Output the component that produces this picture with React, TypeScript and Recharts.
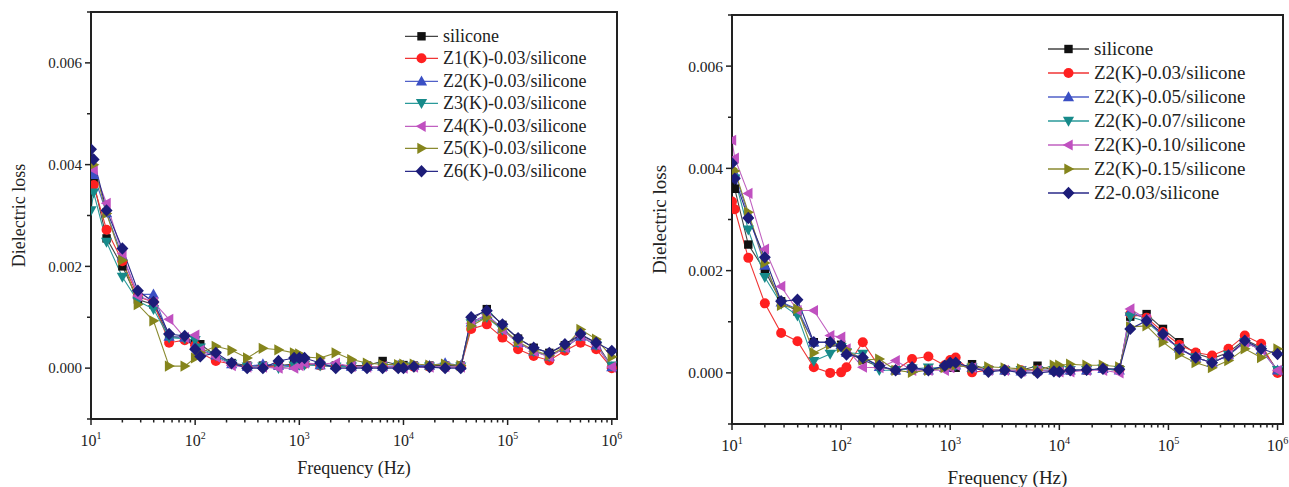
import React from 'react';
import { LineChart, Line, XAxis, YAxis, ReferenceArea } from 'recharts';

// Frequencies (Hz) shared by every sweep
const FREQ = [
  10, 10.6, 14.1, 20, 28.2, 39.8, 56.2, 79.4, 100, 112, 158, 224, 316, 447, 631, 891, 1000, 1122, 1585, 2239,
  3162, 4467, 6310, 8913, 10000, 12589, 17783, 25119, 35481, 44668, 63096, 89125, 125893, 177828, 251189,
  354813, 501187, 707946, 1000000,
];

const LEFT_NAMES = [
  'silicone',
  'Z1(K)-0.03/silicone',
  'Z2(K)-0.03/silicone',
  'Z3(K)-0.03/silicone',
  'Z4(K)-0.03/silicone',
  'Z5(K)-0.03/silicone',
  'Z6(K)-0.03/silicone',
];
const RIGHT_NAMES = [
  'silicone',
  'Z2(K)-0.03/silicone',
  'Z2(K)-0.05/silicone',
  'Z2(K)-0.07/silicone',
  'Z2(K)-0.10/silicone',
  'Z2(K)-0.15/silicone',
  'Z2-0.03/silicone',
];

// left panel: Z1..Z6 at 0.03
const leftSilicone = [
  .0037, .00365, .00255, .002, .00135, .00125, .00062, .0006, .00048, .00047, .00025, .0001, .00005, .00005,
  .00005, .00008, .00006, .0001, .00006, .00005, .00005, .00005, .00014, .00006, .00006, .00005, .00005,
  .00005, .00005, .00095, .00116, .00085, .00058, .0004, .0003, .00045, .00065, .0005, .00003,
];
const leftZ1 = [
  .00355, .0036, .00272, .0021, .0014, .0013, .0005, .00055, .00045, .0003, .00014, .00008, .00003, .00002,
  .00005, .00005, .0001, .00008, .00005, .00003, .00003, .00003, .00003, .00002, .00002, .00003, .00003,
  .00002, .00003, .00077, .00086, .0006, .00037, .00024, .00015, .00034, .0005, .00037, 0,
];
const leftZ2 = [
  .00385, .0038, .00305, .0022, .00145, .00145, .00062, .0006, .00045, .00035, .00025, .00008, .00003, .00008,
  .00005, .00005, .00008, .0001, .00006, .00005, .00003, .00003, .00003, .00005, .00005, .00005, .00005,
  .0001, .00005, .0009, .00105, .00078, .0005, .00033, .00023, .0004, .00062, .00045, .00002,
];
const leftZ3 = [
  .0031, .00345, .00248, .00179, .00132, .00116, .0006, .00058, .00055, .0004, .00025, .00008, .00003, .00003,
  0, .00005, .00006, .00006, .00005, .00003, .00003, .00003, .00003, .00003, .00003, .00003, .00003, .00003,
  .00003, .00088, .001, .00075, .0005, .00033, .00023, .0004, .00063, .00045, .00005,
];
const leftZ4 = [
  .004, .0039, .00324, .00225, .00142, .0013, .00096, .0006, .00065, .00035, .00022, .00005, .00002, .00002,
  0, 0, .00005, .0001, .00008, .0001, .00003, .00002, .00003, .00002, 0, .00002, .00002, .00003, .00002,
  .00088, .00105, .00075, .0005, .00033, .00022, .0004, .00063, .00046, .00002,
];
const leftZ5 = [
  .00405, .004, .00304, .00212, .00125, .00093, .00004, .00004, .0002, .0003, .00043, .00035, .0002, .00039,
  .00036, .0003, .00028, .00022, .0002, .0003, .00017, .0001, .00007, .00007, .00008, .00008, .00006,
  .00008, .00005, .00083, .001, .00078, .00052, .00035, .00025, .00042, .00076, .00057, .00022,
];
const leftZ6 = [
  .0043, .0041, .0031, .00235, .00152, .0013, .00067, .00063, .00037, .00023, .0003, .0001, 0, 0, .00014,
  .0002, .0002, .0002, .0001, 0, 0, 0, 0, 0, 0, .00003, .00002, 0, 0, .001, .00113, .00086, .00059, .0004,
  .0003, .00047, .00067, .0005, .00034,
];

// right panel: Z2(K) loading series
const rightSilicone = [
  .00365, .0036, .00251, .002, .0014, .0012, .0006, .0006, .00055, .0004, .00025, .00012, .00005, .00008,
  .00005, .0001, .0001, .0001, .00017, .00005, .00005, .00005, .00014, .00005, .00005, .00005, .00005,
  .00008, .00007, .0011, .00115, .00086, .0006, .00038, .00028, .0004, .00065, .0005, .00005,
];
const rightZ2K003 = [
  .00335, .0032, .00225, .00136, .00078, .00062, .00011, 0, .00001, .00011, .0006, .00012, .00005, .00027,
  .00032, .00015, .00025, .0003, .00001, .00005, .00005, .00005, .00005, .00005, .00003, .00005, .00005,
  .00008, .00005, .00115, .00108, .0008, .00055, .0004, .00034, .00047, .00073, .00057, 0,
];
const rightZ2K005 = [
  .004, .0039, .0031, .0021, .00138, .00125, .0006, .0006, .00055, .0004, .0003, .00012, .00005, .00008,
  .00005, .0001, .00015, .00015, .0001, .00005, .00005, .00003, .00005, .00005, .00005, .00005, .00005,
  .00008, .00005, .0012, .00105, .00072, .00048, .0003, .0002, .00035, .0006, .00045, .00005,
];
const rightZ2K007 = [
  .0039, .0038, .0028, .00187, .00135, .00112, .00023, .00037, .0005, .0004, .00037, .00005, .00005, .00008,
  .0001, .0001, .00015, .00015, .0001, .00005, .00005, .00005, .00005, .00005, .00005, .00005, .00005,
  .00008, .00005, .0011, .001, .00072, .00048, .0003, .0002, .00035, .0006, .00045, .00005,
];
const rightZ2K010 = [
  .00455, .0042, .00351, .00242, .00169, .00122, .00122, .00073, .0007, .00047, .00011, .0001, .00024,
  .00005, .00005, .00005, .0001, .00015, .0001, .00005, .00005, .00003, .00005, .00003, .00002, .00002,
  .00005, .00005, 0, .00125, .00105, .00072, .00048, .0003, .0002, .00035, .0006, .00045, .00005,
];
const rightZ2K015 = [
  .004, .00395, .00314, .00215, .00132, .00125, .00039, .00055, .0005, .00045, .00025, .00027, .00005,
  .00001, .00005, .0001, .00015, .00015, .0001, .00012, .0001, .00008, .00005, .00015, .00015, .00017,
  .00015, .00015, .00012, .0009, .00092, .0006, .00036, .0002, .0001, .00024, .00047, .0003, .00047,
];
const rightZ2003 = [
  .0041, .0038, .00303, .00226, .0014, .00143, .0006, .0006, .00053, .00036, .0003, .00014, .00005, .00011,
  .00005, .00014, .0002, .0002, .0001, .00002, .00005, 0, 0, .00003, .00002, .00005, .00006, .00008, .00007,
  .00086, .00102, .00076, .00047, .0003, .0002, .00034, .00063, .00047, .00037,
];

const X_MAJOR = [10, 100, 1000, 10000, 100000, 1000000];
const X_TICKS = [1, 2, 3, 4, 5].flatMap((e) => [1, 2, 3, 4, 5, 6, 7, 8, 9].map((m) => m * 10 ** e)).concat([1000000]);
const Y_TICKS = [-0.001, 0, 0.001, 0.002, 0.003, 0.004, 0.005, 0.006, 0.007];
const Y_LABELLED = [0, 0.002, 0.004, 0.006];

const SHAPES = ['square', 'circle', 'up', 'down', 'left', 'right', 'diamond'];
const COLORS = ['#111111', '#ff2020', '#3a4fc4', '#178a8a', '#c050c0', '#85851c', '#1c1c78'];
const LINE_COLORS = ['#444444', '#f03535', '#5060c8', '#2a9a9a', '#c060c0', '#8a8a30', '#2a2a88'];

const FONT = '"Liberation Serif", "Times New Roman", serif';
const INK = '#222';

function Marker({ shape, cx, cy, color }: { shape: string; cx: number; cy: number; color: string }) {
  switch (shape) {
    case 'square':
      return <rect x={cx - 4.2} y={cy - 4.2} width={8.4} height={8.4} fill={color} />;
    case 'circle':
      return <circle cx={cx} cy={cy} r={5} fill={color} />;
    case 'up':
      return <polygon points={`${cx},${cy - 5.8} ${cx + 5.6},${cy + 4.2} ${cx - 5.6},${cy + 4.2}`} fill={color} />;
    case 'down':
      return <polygon points={`${cx},${cy + 5.8} ${cx + 5.6},${cy - 4.2} ${cx - 5.6},${cy - 4.2}`} fill={color} />;
    case 'left':
      return <polygon points={`${cx - 5.8},${cy} ${cx + 4.2},${cy - 5.6} ${cx + 4.2},${cy + 5.6}`} fill={color} />;
    case 'right':
      return <polygon points={`${cx + 5.8},${cy} ${cx - 4.2},${cy - 5.6} ${cx - 4.2},${cy + 5.6}`} fill={color} />;
    default:
      return <polygon points={`${cx},${cy - 6.2} ${cx + 6},${cy} ${cx},${cy + 6.2} ${cx - 6},${cy}`} fill={color} />;
  }
}

function XTick({ x, y, payload, fontSize }: any) {
  const v = payload.value as number;
  const major = X_MAJOR.includes(v);
  return (
    <g>
      <line x1={x} x2={x} y1={y} y2={y + (major ? 6 : 3.5)} stroke={INK} strokeWidth={1.5} />
      {major && (
        <text x={x} y={y + 27} textAnchor="middle" fontFamily={FONT} fontSize={fontSize} fill={INK}>
          10
          <tspan fontSize={fontSize * 0.62} dy={-7}>
            {Math.round(Math.log10(v))}
          </tspan>
        </text>
      )}
    </g>
  );
}

function YTick({ x, y, payload, fontSize }: any) {
  const v = payload.value as number;
  const labelled = Y_LABELLED.some((t) => Math.abs(t - v) < 1e-9);
  return (
    <g>
      <line x1={x - (labelled ? 6 : 4)} x2={x} y1={y} y2={y} stroke={INK} strokeWidth={1.5} />
      {labelled && (
        <text x={x - 9} y={y} dy="0.35em" textAnchor="end" fontFamily={FONT} fontSize={fontSize} fill={INK}>
          {v.toFixed(3)}
        </text>
      )}
    </g>
  );
}

type PanelProps = {
  series: number[][];
  names: string[];
  left: number;
  width: number;
  top: number;
  right: number;
  yAxisW: number;
  xAxisH: number;
  xTitleOffset: number;
  yTitleOffset: number;
  titleSize: number;
  tickSize: number;
  legend: { left: number; top: number; rowH: number; lineW: number; fontSize: number };
};

function Panel(p: PanelProps) {
  const data = FREQ.map((f, i) => {
    const row: Record<string, number> = { f };
    p.series.forEach((s, k) => (row[`s${k}`] = s[i]));
    return row;
  });

  return (
    <div style={{ position: 'absolute', left: p.left, top: 0, width: p.width, height: 487 }}>
      <LineChart width={p.width} height={487} data={data} margin={{ top: p.top, right: p.right, bottom: 0, left: 0 }}>
        <XAxis
          dataKey="f"
          type="number"
          scale="log"
          domain={[10, 1122000]}
          allowDataOverflow
          ticks={X_TICKS}
          interval={0}
          tickSize={0}
          tickMargin={0}
          height={p.xAxisH}
          tick={(t: any) => <XTick {...t} fontSize={p.tickSize + 1} />}
          axisLine={{ stroke: INK, strokeWidth: 2 }}
          label={{
            value: 'Frequency (Hz)',
            position: 'insideBottom',
            offset: p.xTitleOffset,
            style: { fontFamily: FONT, fontSize: p.titleSize, fill: INK },
          }}
        />
        <YAxis
          type="number"
          domain={[-0.001, 0.007]}
          allowDataOverflow
          ticks={Y_TICKS}
          interval={0}
          tickSize={0}
          tickMargin={0}
          width={p.yAxisW}
          tick={(t: any) => <YTick {...t} fontSize={p.tickSize} />}
          axisLine={{ stroke: INK, strokeWidth: 2 }}
          label={{
            value: 'Dielectric loss',
            angle: -90,
            position: 'insideLeft',
            offset: p.yTitleOffset,
            style: { fontFamily: FONT, fontSize: p.titleSize, fill: INK, textAnchor: 'middle' },
          }}
        />
        <ReferenceArea x1={10} x2={1122000} y1={-0.001} y2={0.007} fill="none" stroke={INK} strokeWidth={2} />
        {p.series.map((_, k) => (
          <Line
            key={k}
            dataKey={`s${k}`}
            name={p.names[k]}
            stroke={LINE_COLORS[k]}
            strokeWidth={1.1}
            isAnimationActive={false}
            dot={(d: any) => (
              <g key={`${k}-${d.index}`}>
                <Marker shape={SHAPES[k]} cx={d.cx} cy={d.cy} color={COLORS[k]} />
              </g>
            )}
            activeDot={false}
          />
        ))}
      </LineChart>
      <div style={{ position: 'absolute', left: p.legend.left, top: p.legend.top }}>
        {p.names.map((n, k) => (
          <div key={n} style={{ display: 'flex', alignItems: 'center', height: p.legend.rowH }}>
            <svg width={p.legend.lineW} height={p.legend.rowH} style={{ display: 'block' }}>
              <line x1={0} x2={p.legend.lineW} y1={p.legend.rowH / 2} y2={p.legend.rowH / 2} stroke={LINE_COLORS[k]} strokeWidth={1.3} />
              <Marker shape={SHAPES[k]} cx={p.legend.lineW / 2} cy={p.legend.rowH / 2} color={COLORS[k]} />
            </svg>
            <span
              style={{
                marginLeft: 5,
                fontFamily: FONT,
                fontSize: p.legend.fontSize,
                color: INK,
                lineHeight: `${p.legend.rowH}px`,
                whiteSpace: 'nowrap',
              }}
            >
              {n}
            </span>
          </div>
        ))}
      </div>
    </div>
  );
}

export default function App() {
  return (
    <div style={{ position: 'absolute', left: 0, top: 0, width: 1289, height: 487, background: '#fff' }}>
      <Panel
        series={[leftSilicone, leftZ1, leftZ2, leftZ3, leftZ4, leftZ5, leftZ6]}
        names={LEFT_NAMES}
        left={0}
        width={640}
        top={12}
        right={23}
        yAxisW={91}
        xAxisH={68}
        xTitleOffset={13}
        yTitleOffset={19}
        titleSize={18}
        tickSize={15}
        legend={{ left: 405, top: 24.5, rowH: 22.6, lineW: 33, fontSize: 18 }}
      />
      <Panel
        series={[rightSilicone, rightZ2K003, rightZ2K005, rightZ2K007, rightZ2K010, rightZ2K015, rightZ2003]}
        names={RIGHT_NAMES}
        left={640}
        width={649}
        top={15}
        right={6}
        yAxisW={92}
        xAxisH={63}
        xTitleOffset={3}
        yTitleOffset={19}
        titleSize={19}
        tickSize={15.5}
        legend={{ left: 408, top: 37, rowH: 24, lineW: 41, fontSize: 19 }}
      />
    </div>
  );
}
